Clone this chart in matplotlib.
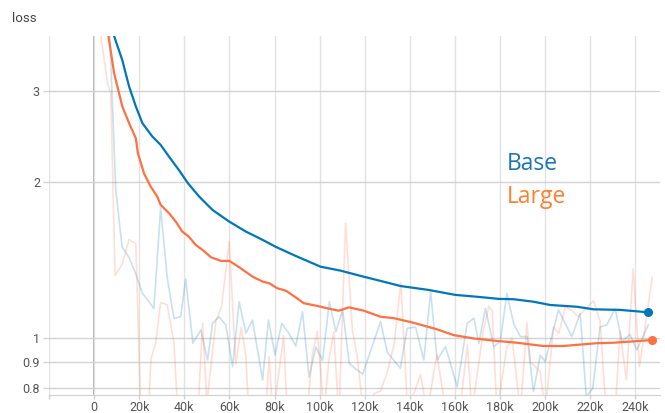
"""
TensorBoard-style loss curves, Base vs Large (log y axis).
Raw values drawn faint, smoothed values on top.
"""

import numpy as np
import matplotlib
matplotlib.use('Agg')
import matplotlib.pyplot as plt

# --- data ---
base_steps = [6000, 8850, 12500, 15500, 18500, 21400, 25800, 29500, 33200, 37600,
              41600, 46600, 52500, 59900, 67300, 74700, 80500, 89400, 100400, 109300,
              118100, 130000, 135800, 148400, 160200, 169000, 179300, 186000, 194800, 202200,
              214000, 221400, 233200, 245700]
base_smooth = [4.5, 3.83, 3.44, 3.06, 2.80, 2.60, 2.45, 2.36, 2.24, 2.11,
               1.99, 1.875, 1.767, 1.678, 1.605, 1.547, 1.50, 1.44, 1.373, 1.349,
               1.318, 1.279, 1.26, 1.238, 1.211, 1.202, 1.19, 1.188, 1.175, 1.158,
               1.149, 1.136, 1.133, 1.121]

large_steps = [3000, 5900, 8850, 12500, 15500, 18500, 19400, 22100, 25100, 28000,
               29500, 33200, 36200, 39100, 42000, 45100, 48100, 51800, 56200, 59900,
               64300, 70200, 74700, 77600, 81300, 85000, 89400, 93000, 99000, 103400,
               108500, 113000, 119600, 127000, 132900, 141600, 152100, 159300, 168200, 178600,
               187500, 199100, 208000, 222900, 230100, 237600, 247400]
large_smooth = [4.8, 3.94, 3.25, 2.80, 2.60, 2.43, 2.275, 2.08, 1.96, 1.875,
                1.807, 1.742, 1.678, 1.605, 1.569, 1.512, 1.479, 1.432, 1.409, 1.409,
                1.37, 1.314, 1.285, 1.276, 1.247, 1.234, 1.198, 1.167, 1.153, 1.141,
                1.129, 1.146, 1.129, 1.099, 1.092, 1.070, 1.039, 1.013, 0.998, 0.987,
                0.979, 0.965, 0.965, 0.977, 0.979, 0.984, 0.991]

base_raw_steps = [3000, 6600, 9600, 12400, 15500, 18500, 21400, 24000, 26500, 29500,
                  32400, 35400, 38400, 40600, 43800, 47300, 50300, 52500, 55400, 58400,
                  61400, 64300, 67300, 70200, 74700, 77300, 80200, 83200, 86400, 89400,
                  92400, 95300, 98300, 101300, 104300, 107200, 110200, 113100, 116100, 119100,
                  127000, 130000, 135800, 138800, 142500, 146200, 149200, 152100, 155800, 161000,
                  165400, 168400, 170600, 173500, 177200, 180100, 183000, 186000, 189000, 192000,
                  194800, 197800, 200000, 205900, 211800, 215500, 218200, 221100, 224300, 227300,
                  231000, 234000, 237600, 240600, 245700]
base_raw = [6.0, 4.2, 1.93, 1.50, 1.43, 1.33, 1.22, 1.18, 1.14, 1.78,
            1.31, 1.09, 1.10, 1.30, 0.977, 1.036, 0.907, 1.067, 1.099, 1.059,
            0.88, 1.175, 1.021, 1.083, 0.83, 1.083, 0.927, 1.067, 1.02, 0.965,
            1.124, 0.84, 0.96, 0.905, 1.175, 1.028, 1.133, 0.894, 0.87, 0.852,
            1.075, 0.938, 0.874, 1.044, 1.05, 0.907, 1.229, 0.907, 0.962, 0.805,
            1.067, 1.092, 0.977, 1.141, 0.962, 0.985, 1.22, 1.067, 1.006, 1.006,
            0.788, 0.927, 0.90, 1.133, 1.006, 1.116, 0.77, 0.80, 1.05, 1.06,
            1.14, 0.985, 1.015, 0.948, 1.06]

large_raw_steps = [1000, 3100, 6000, 7400, 9300, 12500, 15500, 18500, 21200, 23600,
                   25200, 27300, 29500, 32400, 35400, 38000, 42000, 45900, 48100, 50000,
                   54000, 56500, 59900, 62800, 65300, 67300, 69500, 73000, 76100, 77600,
                   79300, 84000, 85700, 89000, 92500, 95300, 96800, 99000, 101900, 104100,
                   106300, 108500, 111500, 114500, 116700, 119600, 122000, 124000, 127000, 130000,
                   133000, 136000, 139000, 144700, 147700, 152000, 156000, 160000, 165500, 167500,
                   172500, 175000, 176500, 178600, 183000, 185300, 189000, 191900, 193400, 197800,
                   200000, 203700, 206000, 208900, 211800, 214700, 221400, 224300, 227000, 231000,
                   233200, 236000, 239000, 241800, 247400]
large_raw = [5.0, 3.8, 3.1, 2.97, 1.32, 1.39, 1.55, 1.52, 0.6, 0.65,
             0.91, 0.98, 1.17, 1.16, 0.98, 0.6, 0.6, 0.7, 1.067, 0.75,
             1.08, 1.15, 1.535, 0.89, 1.05, 0.92, 0.6, 0.6, 0.72, 0.92,
             0.7, 1.01, 0.7, 0.6, 0.6, 0.79, 0.93, 1.03, 0.72, 0.907,
             1.028, 0.7, 1.666, 1.036, 0.92, 0.7, 0.6, 0.78, 0.79, 0.86,
             0.97, 1.28, 0.72, 0.85, 0.72, 0.93, 0.72, 0.6, 0.97, 0.72,
             1.03, 1.15, 1.13, 0.72, 0.96, 1.0, 0.72, 1.07, 0.9, 0.86,
             0.72, 1.05, 1.02, 1.15, 1.13, 1.1, 1.18, 1.08, 0.72, 0.72,
             1.03, 0.83, 1.36, 0.88, 1.31]

x_ticks = list(range(0, 240001, 20000))
x_labels = ['0'] + [f'{t // 1000}k' for t in x_ticks[1:]]
y_ticks = [0.8, 0.9, 1, 2, 3]
y_labels = ['0.8', '0.9', '1', '2', '3']

BLUE = '#0077bb'
ORANGE = '#ff7043'

plt.rcParams['font.family'] = ['Roboto', 'DejaVu Sans']

fig = plt.figure(figsize=(6.65, 4.13), dpi=100)
ax = fig.add_axes([49 / 665, 18 / 413, 611 / 665, 359 / 413])

# raw (faint) first, smoothed on top
ax.plot(base_raw_steps, base_raw, color=BLUE, alpha=0.22, lw=1.2, zorder=2)
ax.plot(large_raw_steps, large_raw, color=ORANGE, alpha=0.22, lw=1.2, zorder=2)
ax.plot(base_steps, base_smooth, color=BLUE, lw=1.6, zorder=4)
ax.plot(large_steps, large_smooth, color=ORANGE, lw=1.6, zorder=3)
ax.plot(base_steps[-1], base_smooth[-1], 'o', color=BLUE, ms=5.5, zorder=5)
ax.plot(large_steps[-1], large_smooth[-1], 'o', color=ORANGE, ms=5.5, zorder=5)

ax.set_yscale('log')
ax.set_ylim(0.776, 3.83)
ax.set_xlim(-19500, 250900)
ax.set_yticks(y_ticks)
ax.set_yticklabels(y_labels)
ax.yaxis.set_minor_locator(matplotlib.ticker.NullLocator())
ax.set_xticks([-20000] + x_ticks)
ax.set_xticklabels([''] + x_labels)

# grid
ax.grid(True, axis='y', color='#d3d3d3', lw=1.0, zorder=0)
ax.grid(True, axis='x', color='#e3e3e3', lw=1.0, zorder=0)
ax.axvline(0, color='#a8a8a8', lw=1.3, zorder=1)

for s in ['top', 'right', 'left']:
    ax.spines[s].set_visible(False)
ax.spines['bottom'].set_color('#d0d0d0')
ax.tick_params(axis='x', colors='#d0d0d0', length=3, width=1, pad=1.5,
               labelcolor='#555555', labelsize=9)
ax.tick_params(axis='y', colors='#d3d3d3', length=4.5, width=1, pad=2,
               labelcolor='#555555', labelsize=9)

fig.text(12 / 665, 1 - 19 / 413, 'loss', fontsize=9.5, color='#444444', va='center')
fig.text(507 / 665, 1 - 170 / 413, 'Base', fontsize=16.5, color='#1976b2',
         family=['Open Sans', 'DejaVu Sans'], va='baseline')
fig.text(507 / 665, 1 - 203 / 413, 'Large', fontsize=16.5, color='#ff7f2e',
         family=['Open Sans', 'DejaVu Sans'], va='baseline')

fig.savefig('out.png', dpi=100)
